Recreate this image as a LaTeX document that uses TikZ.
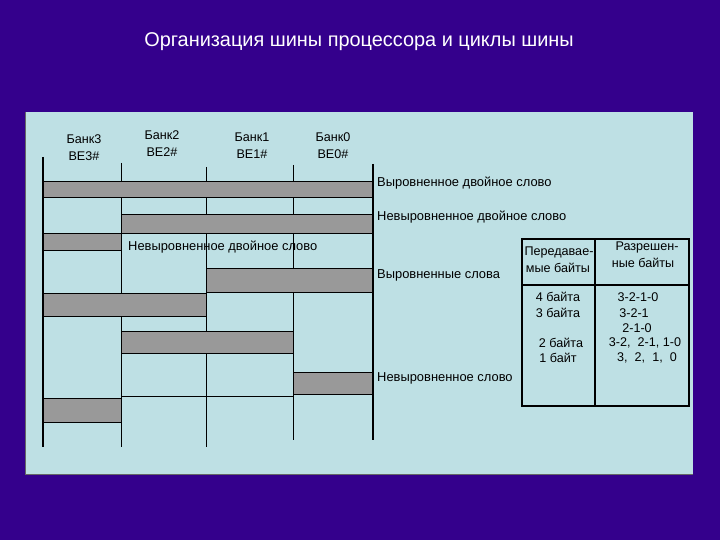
\documentclass[tikz,border=0pt]{standalone}
\usepackage{fontspec}
\setmainfont{Liberation Sans}
\definecolor{bgc}{RGB}{52,0,140}
\definecolor{panelc}{RGB}{190,224,228}
\definecolor{barc}{RGB}{153,153,153}
\begin{document}
\begin{tikzpicture}[x=1pt,y=-1pt,
  barbox/.style={draw=black, fill=barc, line width=0.8pt},
  lbl/.style={anchor=west, inner sep=0pt, font=\fontsize{12.9}{15}\selectfont},
  bank/.style={align=center, inner sep=0pt, font=\fontsize{12.6}{17}\selectfont},
  cell/.style={inner sep=0pt, font=\fontsize{12.6}{14}\selectfont},
  thin/.style={line width=1pt},
  thick/.style={line width=2.4pt}]
\fill[bgc] (0,0) rectangle (720,540);
\useasboundingbox (0,0) rectangle (720,540);
\node[text=white, font=\fontsize{19.9}{22}\selectfont] (title) at (359,42) {Организация шины процессора и циклы шины};
\fill[panelc] (25,112) rectangle (693,474);
\draw[black!60, line width=1pt] (25,112) -- (25,474) -- (693,474);
% thin verticals
\draw[thin] (121,163) -- (121,447);
\draw[thin] (206,167) -- (206,447);
\draw[thin] (293,165) -- (293,440);
% bars
\draw[barbox] (43,181) rectangle (373,197);
\draw[barbox] (121,214) rectangle (373,233);
\draw[barbox] (43,233) rectangle (121,250);
\draw[barbox] (206,268) rectangle (373,292);
\draw[barbox] (43,293) rectangle (206,316);
\draw[barbox] (121,331) rectangle (293,353);
\draw[barbox] (293,372) rectangle (373,394);
\draw[thin] (121,396) -- (293,396);
\draw[barbox] (43,398) rectangle (121,422);
% thick verticals
\draw[thick] (43,157) -- (43,447);
\draw[thick] (373,164) -- (373,440);
% bank labels
\node[bank] (b3) at (84,148) {Банк3\\BE3\#};
\node[bank] (b2) at (162,144) {Банк2\\BE2\#};
\node[bank] (b1) at (252,146) {Банк1\\BE1\#};
\node[bank] (b0) at (333,146) {Банк0\\BE0\#};
% right labels
\node[lbl] (l1) at (377,183) {Выровненное двойное слово};
\node[lbl] (l2) at (377,217) {Невыровненное двойное слово};
\node[lbl] (l3) at (128,247) {Невыровненное двойное слово};
\node[lbl] (l4) at (377,275) {Выровненные слова};
\node[lbl] (l5) at (377,378) {Невыровненное слово};
% table
\draw[line width=1.6pt] (522,239) rectangle (689,406);
\draw[line width=1.6pt] (595,239) -- (595,406);
\draw[line width=1.6pt] (522,285) -- (689,285);
\node[cell] (h1a) at (559,252) {Передавае-};
\node[cell] (h1b) at (558,268) {мые байты};
\node[cell] (h2a) at (647,247) {Разрешен-};
\node[cell] (h2b) at (643,263) {ные байты};
\node[cell] (c1) at (558,297) {4 байта};
\node[cell] (c2) at (558,313) {3 байта};
\node[cell] (c3) at (561,343) {2 байта};
\node[cell] (c4) at (558,358) {1 байт};
\node[cell] (d1) at (638,297) {3-2-1-0};
\node[cell] (d2) at (634,313) {3-2-1};
\node[cell] (d3) at (637,328) {2-1-0};
\node[cell] (d4) at (645,343) {3-2,\ \ 2-1, 1-0};
\node[cell] (d5) at (647,358) {3,\ \ 2,\ \ 1,\ \ 0};
\end{tikzpicture}
\end{document}
